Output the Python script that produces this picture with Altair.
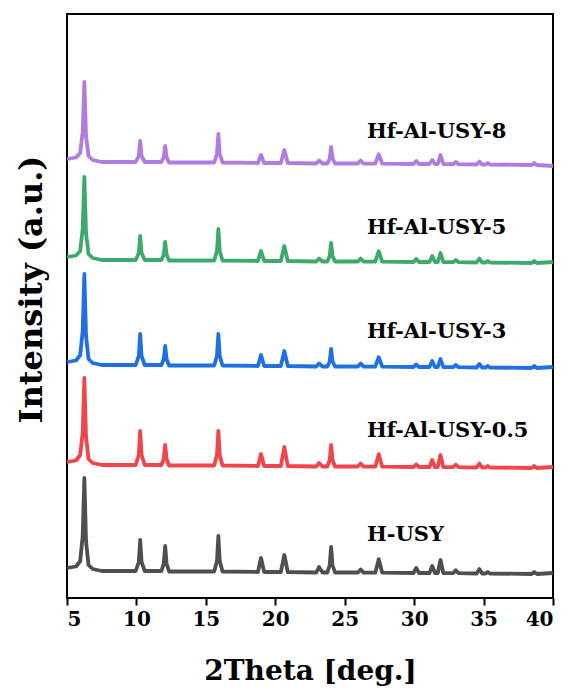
import altair as alt
import pandas as pd

# 2Theta sampling nodes (deg.)
THETA = [
    5.0, 5.65, 5.95, 6.13, 6.25, 6.37, 6.55, 6.85, 7.5,
    9.95, 10.17, 10.27, 10.37, 10.6,
    11.8, 11.97, 12.07, 12.17, 12.35,
    15.6, 15.8, 15.9, 16.0, 16.2,
    18.75, 18.97, 19.2,
    20.4, 20.65, 20.9,
    22.95, 23.15, 23.4,
    23.75, 23.92, 24.02, 24.12, 24.3,
    25.95, 26.15, 26.35,
    27.2, 27.45, 27.7,
    29.95, 30.15, 30.35,
    31.1, 31.3, 31.5,
    31.7, 31.9, 32.1,
    32.8, 33.0, 33.2,
    34.5, 34.7, 34.9,
    35.15, 35.3, 35.45,
    38.45, 38.65, 38.85,
    40.0,
]

SAMPLES = ["H-USY", "Hf-Al-USY-0.5", "Hf-Al-USY-3", "Hf-Al-USY-5", "Hf-Al-USY-8"]
COLORS = ["#4F4F4F", "#F2444A", "#1F70E0", "#3DAA6C", "#B07CDF"]
OFFSETS = [30, 136, 236, 341, 439]
LABEL_Y = [63, 167, 266, 370, 466]
LABEL_X = 26.6

I_HUSY = [0, 1.5, 7, 32, 90, 27, 3, -1, -3,
          -3, 6, 28, 6, -3,
          -3, 4.5, 22, 4.5, -3.5,
          -3.5, 7, 32, 7, -3.5,
          -4, 10, -4,
          -4, 13, -4,
          -4.5, 1, -4.5,
          -4.5, 3, 21, 3, -4.5,
          -4.5, -1.5, -4.5,
          -4.7, 8.8, -4.7,
          -5, 0, -5,
          -5, 2, -5,
          -5, 8, -5,
          -5.2, -2.2, -5.2,
          -5.5, -1, -5.5,
          -5.5, -4, -5.5,
          -6, -4, -6,
          -5]

I_05 = [0, 1.5, 7, 29, 84, 25, 3, -1, -3,
        -3, 7, 31, 7, -3,
        -3, 3, 17, 3, -3.5,
        -3.5, 7, 31, 7, -3.5,
        -4, 8, -4,
        -4, 15, -4,
        -4.5, -1, -4.5,
        -4.5, 2, 17, 2, -4.5,
        -4.5, -1.5, -4.5,
        -4.7, 7.8, -4.7,
        -5, -2.5, -5,
        -5, 2, -5,
        -5, 7, -5,
        -5.2, -2.7, -5.2,
        -5.5, -1.5, -5.5,
        -5.5, -4, -5.5,
        -6, -4, -6,
        -5]

I_3 = [0, 1.5, 7, 31, 88, 26, 3, -1, -3,
       -3, 6, 28, 6, -3,
       -3, 3, 16, 3, -3.5,
       -3.5, 6, 28, 6, -3.5,
       -4, 7, -4,
       -4, 11, -4,
       -4.5, -1.5, -4.5,
       -4.5, 0.5, 13, 0.5, -4.5,
       -4.5, -1.5, -4.5,
       -4.7, 4.8, -4.7,
       -5, -2.5, -5,
       -5, 1, -5,
       -5, 3, -5,
       -5.2, -3, -5.2,
       -5.5, -2, -5.5,
       -5.5, -4, -5.5,
       -6, -4, -6,
       -5]

I_5 = [0, 1.5, 6, 28, 80, 24, 3, -1, -3,
       -3, 4, 21, 4, -3,
       -3, 2.5, 15, 2.5, -3.5,
       -3.5, 6, 28, 6, -3.5,
       -4, 6, -4,
       -4, 11, -4,
       -4.5, -1.5, -4.5,
       -4.5, 1, 14, 1, -4.5,
       -4.5, -1.5, -4.5,
       -4.7, 5.8, -4.7,
       -5, -2, -5,
       -5, 1, -5,
       -5, 4, -5,
       -5.2, -3, -5.2,
       -5.5, -1.5, -5.5,
       -5.5, -4, -5.5,
       -6, -4, -6,
       -5]

I_8 = [0, 1.5, 6, 27, 77, 23, 3, -1, -3,
       -3, 3, 18, 3, -3,
       -3, 2, 13, 2, -3.5,
       -3.5, 5, 25, 5, -3.5,
       -4, 4, -4,
       -4, 9, -4,
       -4.5, -1.5, -4.5,
       -4.5, 0.5, 12, 0.5, -4.5,
       -4.5, -1.5, -4.5,
       -4.7, 4.8, -4.7,
       -5, -2, -5,
       -5, -1, -5,
       -5, 4, -5,
       -5.2, -3, -5.2,
       -5.5, -2.5, -5.5,
       -5.5, -4, -5.5,
       -6, -4, -6,
       -7]

SERIES = [I_HUSY, I_05, I_3, I_5, I_8]

rows = []
for name, off, vals in zip(SAMPLES, OFFSETS, SERIES):
    assert len(vals) == len(THETA)
    for t, v in zip(THETA, vals):
        rows.append({"theta": t, "intensity": off + v, "sample": name})
df = pd.DataFrame(rows)

labels = pd.DataFrame({"theta": [LABEL_X] * 5, "intensity": LABEL_Y, "sample": SAMPLES})

FONT = "DejaVu Serif"

xscale = alt.Scale(domain=[5, 40], nice=False, zero=False)
yscale = alt.Scale(domain=[0, 584], nice=False, zero=False)
cscale = alt.Scale(domain=SAMPLES, range=COLORS)

lines = alt.Chart(df).mark_line(strokeWidth=3.8, strokeJoin="round").encode(
    x=alt.X("theta:Q", scale=xscale,
            axis=alt.Axis(title="2Theta [deg.]", values=[5, 10, 15, 20, 25, 30, 35, 40],
                          format="d", grid=False, domain=False,
                          ticks=True, tickSize=7, tickWidth=2, tickColor="black",
                          labelFont=FONT, labelFontSize=20, labelFontWeight="bold",
                          labelColor="black", labelPadding=4,
                          titleFont=FONT, titleFontSize=28, titleFontWeight="bold",
                          titleColor="black", titleBaseline="alphabetic", titleY=81)),
    y=alt.Y("intensity:Q", scale=yscale,
            axis=alt.Axis(title="Intensity (a.u.)", labels=False, ticks=False,
                          domain=False, grid=False,
                          titleFont=FONT, titleFontSize=32, titleFontWeight="bold",
                          titleColor="black", titleAngle=-90, titleAlign="center",
                          titleBaseline="middle", titleX=-36, titleY=275)),
    color=alt.Color("sample:N", scale=cscale, legend=None),
    detail="sample:N",
)

texts = alt.Chart(labels).mark_text(
    align="left", baseline="middle", font=FONT, fontSize=21, fontWeight="bold", color="black"
).encode(
    x=alt.X("theta:Q", scale=xscale),
    y=alt.Y("intensity:Q", scale=yscale),
    text="sample:N",
)

chart = (lines + texts).properties(
    width=486, height=584,
    background="white",
    autosize=alt.AutoSizeParams(type="none"),
    padding={"left": 59, "top": 6, "right": 8, "bottom": 91},
).configure_view(stroke="black", strokeWidth=2)

chart.save("out.html", embed_options={"renderer": "svg", "actions": False})
